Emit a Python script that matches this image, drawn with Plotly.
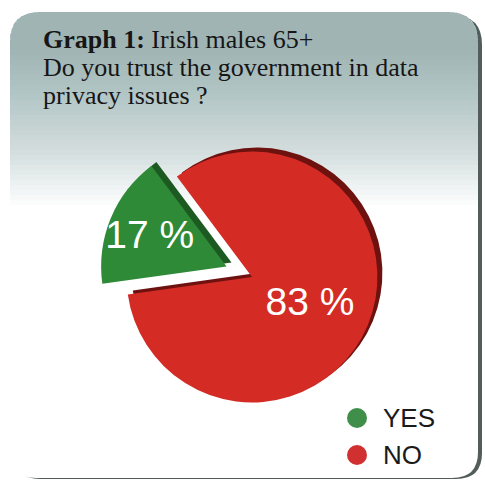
import plotly.graph_objects as go

# ---- data ----
answers = ["YES", "NO"]
shares = [17, 83]
slice_colors = ["#2f8a37", "#d42b25"]
rim_colors = ["#1c5a22", "#6e1210"]
legend_dot_colors = ["#3f8f4a", "#d03030"]

title_bold = "Graph 1:"
title_lines = ["Irish males 65+", "Do you trust the government in data", "privacy issues ?"]

W, H = 485, 484


def px(x):
    return x / W


def py(y):
    return 1 - y / H


def rounded_path(left, top, right, bottom, r_top, r_bot=0):
    """SVG path (paper units) for a rectangle with rounded corners."""
    pts = []
    pts.append(f"M {px(left)},{py(bottom - r_bot)}")
    pts.append(f"L {px(left)},{py(top + r_top)}")
    pts.append(f"Q {px(left)},{py(top)} {px(left + r_top)},{py(top)}")
    pts.append(f"L {px(right - r_top)},{py(top)}")
    pts.append(f"Q {px(right)},{py(top)} {px(right)},{py(top + r_top)}")
    pts.append(f"L {px(right)},{py(bottom - r_bot)}")
    if r_bot:
        pts.append(f"Q {px(right)},{py(bottom)} {px(right - r_bot)},{py(bottom)}")
        pts.append(f"L {px(left + r_bot)},{py(bottom)}")
        pts.append(f"Q {px(left)},{py(bottom)} {px(left)},{py(bottom - r_bot)}")
    pts.append("Z")
    return " ".join(pts)


shapes = []
# card shadow
shapes.append(dict(type="path", xref="paper", yref="paper", layer="below",
                   path=rounded_path(14, 15, 482, 479, 30, 26),
                   fillcolor="rgb(82,92,90)", line=dict(width=0)))
# white card
shapes.append(dict(type="path", xref="paper", yref="paper", layer="below",
                   path=rounded_path(10, 12, 478, 478, 30, 26),
                   fillcolor="white", line=dict(width=0)))
# soft grey-teal wash fading down the card
n_layers = 32
for k in range(n_layers):
    bottom = 45 + 160 * (k + 1) / n_layers
    shapes.append(dict(type="path", xref="paper", yref="paper", layer="below",
                       path=rounded_path(10, 12, 478, bottom, 30, 0),
                       fillcolor="rgb(98,148,128)", opacity=0.028,
                       line=dict(width=0)))

# legend dots
for i, c in enumerate(legend_dot_colors):
    cx, cy = 357, 418 + 37 * i
    shapes.append(dict(type="circle", xref="paper", yref="paper",
                       x0=px(cx - 10), x1=px(cx + 10), y0=py(cy + 10), y1=py(cy - 10),
                       fillcolor=c, line=dict(width=0)))

# pie geometry
pull = [0.22, 0]
dom_x = [px(99), px(405)]
dom_y = [py(430), py(124)]
shift_x, shift_y = 5 / W, 4 / H

fig = go.Figure()
# darker rim underneath gives the pie some depth
fig.add_trace(go.Pie(
    labels=answers, values=shares, sort=False, direction="clockwise", rotation=262,
    pull=pull, marker=dict(colors=rim_colors, line=dict(width=0)),
    textinfo="none", hoverinfo="skip", showlegend=False,
    domain=dict(x=[dom_x[0] + shift_x, dom_x[1] + shift_x],
                y=[dom_y[0] + shift_y, dom_y[1] + shift_y]),
))
fig.add_trace(go.Pie(
    labels=answers, values=shares, sort=False, direction="clockwise", rotation=262,
    pull=pull, marker=dict(colors=slice_colors, line=dict(width=0)),
    texttemplate="%{value} %", textposition="inside",
    insidetextorientation="horizontal",
    insidetextfont=dict(family="Liberation Sans, Arial", size=39, color="white"),
    showlegend=False, domain=dict(x=dom_x, y=dom_y),
))

annotations = []
title_font = dict(family="Liberation Serif, Times New Roman", size=26, color="#161616")
line_centers = [40, 68, 95]
for i, (t, yc) in enumerate(zip(title_lines, line_centers)):
    text = f"<b>{title_bold}</b> {t}" if i == 0 else t
    annotations.append(dict(text=text, x=px(41), y=py(yc), xref="paper", yref="paper",
                            xanchor="left", yanchor="middle", showarrow=False,
                            font=title_font))

for i, lab in enumerate(answers):
    annotations.append(dict(text=lab, x=px(381), y=py(418 + 37 * i), xref="paper", yref="paper",
                            xanchor="left", yanchor="middle", showarrow=False,
                            font=dict(family="Liberation Sans, Arial", size=26, color="#1a1a1a")))

fig.update_layout(
    width=W, height=H, margin=dict(l=0, r=0, t=0, b=0),
    paper_bgcolor="white", plot_bgcolor="white",
    shapes=shapes, annotations=annotations,
    uniformtext=dict(minsize=39, mode="show"),
)

fig.write_html("out.html")
